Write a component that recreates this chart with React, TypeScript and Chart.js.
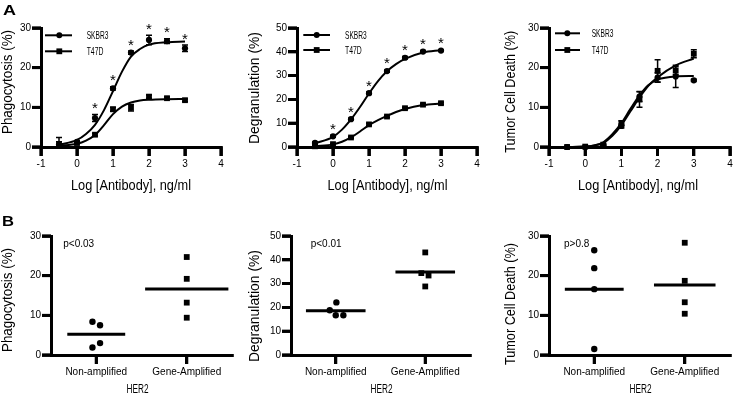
import React, { useEffect, useRef } from "react";
import { Chart, registerables } from "chart.js";

Chart.register(...registerables);

const FONT = "'Liberation Sans', Arial, Helvetica, sans-serif";

// ---------- Panel A: dose response ----------
const seriesNames = ["SKBR3", "T47D"];
const doseLog = [-0.5, 0, 0.5, 1, 1.5, 2, 2.5, 3];
const fitLog = [-0.5, 0, 0.25, 0.5, 0.75, 1, 1.25, 1.5, 1.75, 2, 2.5, 3];

// Phagocytosis
const phagoSKBR3 = [0.6, 1.3, 7.3, 14.8, 23.8, 27.0, 26.7, 24.9];
const phagoSKBR3Err = [1.8, 0.3, 0.9, 0.4, 0.4, 1.2, 0.6, 0.8];
const phagoT47D = [0.5, 1.0, 3.1, 9.5, 9.9, 12.7, 12.3, 11.8];
const phagoT47DErr = [0.8, 0.2, 0.3, 0.5, 0.8, 0.4, 0.3, 0.3];
const phagoFitSKBR3 = [0.5, 1.8, 3.3, 5.6, 9.3, 14.1, 19.0, 22.8, 24.7, 25.8, 26.4, 26.6];
const phagoFitT47D = [0.3, 0.8, 1.6, 3.0, 5.5, 8.3, 10.2, 11.2, 11.7, 11.9, 12.05, 12.1];
const phagoStarDoses = [0.5, 1, 1.5, 2, 2.5, 3];

// Degranulation
const degSKBR3 = [1.7, 4.5, 11.7, 22.6, 31.9, 37.5, 40.1, 40.5];
const degSKBR3Err = [0.4, 0.4, 0.4, 0.5, 0.5, 0.5, 0.4, 0.4];
const degT47D = [0.3, 1.2, 4.0, 9.5, 12.8, 16.3, 17.8, 18.4];
const degT47DErr = [0.3, 0.3, 0.3, 0.5, 0.4, 0.4, 0.4, 0.4];
const degFitSKBR3 = [1.5, 4.3, 7.3, 11.6, 16.8, 22.5, 27.7, 31.8, 34.8, 37.0, 39.7, 40.7];
const degFitT47D = [0.3, 1.1, 2.2, 4.0, 6.5, 9.2, 11.3, 13.1, 14.7, 16.0, 17.6, 18.3];
const degStarDoses = [0, 0.5, 1, 1.5, 2, 2.5, 3];

// Tumor cell death
const tcdSKBR3 = [0, 0, 0.4, 5.3, 12.7, 17.5, 17.8, 16.8];
const tcdSKBR3Err = [0, 0, 0.2, 0.5, 1.2, 1.2, 2.8, 0.3];
const tcdT47D = [0, 0.1, 0.6, 6.0, 12.0, 19.2, 19.3, 23.5];
const tcdT47DErr = [0, 0, 0.2, 0.6, 2.0, 2.8, 1.0, 1.0];
const tcdFitSKBR3 = [0, 0.1, 0.4, 1.2, 3.2, 6.0, 9.6, 13.0, 15.6, 17.0, 17.8, 17.9];
const tcdFitT47D = [0, 0.1, 0.4, 1.0, 2.8, 5.5, 9.0, 12.5, 15.5, 17.6, 20.6, 22.3];

// ---------- Panel B: HER2 groups ----------
const her2Groups = ["Non-amplified", "Gene-Amplified"];
const phagoNonAmp = [8.4, 7.5, 1.9, 3.0];
const phagoNonAmpJitter = [-0.042, 0.042, -0.042, 0.042];
const phagoAmp = [24.7, 19.2, 13.2, 9.4];
const phagoAmpJitter = [0, 0, 0, 0];
const degNonAmp = [22.1, 18.8, 16.7, 16.7];
const degNonAmpJitter = [0.007, -0.067, 0, 0.085];
const degAmp = [43.1, 34.4, 33.4, 28.8];
const degAmpJitter = [0, -0.044, 0.037, 0];
const tcdNonAmp = [26.4, 21.9, 16.6, 1.5];
const tcdNonAmpJitter = [0, 0, 0, 0];
const tcdAmp = [28.3, 18.7, 13.3, 10.4];
const tcdAmpJitter = [0, 0, 0, 0];

const pPhago = "p<0.03";
const pDeg = "p<0.01";
const pTcd = "p>0.8";

// ---------- types ----------
type Rect = { left: number; top: number; width: number; height: number };
type Area = { l: number; t: number; r: number; b: number };
type TextItem = {
  text: string; x: number; y: number; size: number; bold?: boolean;
  align?: CanvasTextAlign; rotate?: boolean; w?: number;
};
type ErrSeries = { xs: number[]; ys: number[]; es: number[] };
type LegendSpec = { x0: number; x1: number; mx: number; tx: number; ys: number[]; ws: number[] };
type Overlay = {
  errors: ErrSeries[];
  stars?: { xs: number[]; ys: number[]; es: number[] };
  legend?: LegendSpec;
  texts: TextItem[];
};

const mean = (a: number[]) => a.reduce((s, v) => s + v, 0) / a.length;
const TICK_LEN = 9;

function drawMarker(ctx: CanvasRenderingContext2D, style: string, x: number, y: number) {
  ctx.beginPath();
  if (style === "circle") {
    ctx.arc(x, y, 3, 0, Math.PI * 2);
  } else {
    ctx.rect(x - 2.9, y - 2.9, 5.8, 5.8);
  }
  ctx.fill();
}

function drawText(ctx: CanvasRenderingContext2D, t: TextItem, ox: number, oy: number) {
  ctx.save();
  ctx.font = `${t.bold ? "bold " : ""}${t.size}px ${FONT}`;
  ctx.fillStyle = "#000";
  ctx.textAlign = t.align ?? "left";
  ctx.textBaseline = "alphabetic";
  const natural = ctx.measureText(t.text).width;
  const sx = t.w ? t.w / natural : 1;
  ctx.translate(t.x - ox, t.y - oy);
  if (t.rotate) ctx.rotate(-Math.PI / 2);
  ctx.scale(sx, 1);
  ctx.fillText(t.text, 0, 0);
  ctx.restore();
}

function drawTicks(chart: any) {
  const ctx: CanvasRenderingContext2D = chart.ctx;
  const xs = chart.scales.x;
  const ys = chart.scales.y;
  const area = chart.chartArea;
  ctx.save();
  ctx.fillStyle = "#000";
  for (const t of xs.ticks) {
    const px = xs.getPixelForValue(t.value);
    ctx.fillRect(px - 1.4, area.bottom, 2.8, TICK_LEN);
  }
  for (const t of ys.ticks) {
    const py = ys.getPixelForValue(t.value);
    ctx.fillRect(area.left - TICK_LEN, py - 1.4, TICK_LEN, 2.8);
  }
  ctx.restore();
}

function overlayPlugin(rect: Rect, ov: Overlay) {
  return {
    id: "overlay",
    beforeDatasetsDraw(chart: any) {
      const ctx: CanvasRenderingContext2D = chart.ctx;
      const xs = chart.scales.x;
      const ys = chart.scales.y;
      ctx.save();
      ctx.strokeStyle = "#000";
      ctx.lineWidth = 1.5;
      for (const s of ov.errors) {
        s.xs.forEach((x, i) => {
          const e = s.es[i];
          if (!e) return;
          const px = xs.getPixelForValue(x);
          const p1 = ys.getPixelForValue(s.ys[i] + e);
          const p2 = ys.getPixelForValue(Math.max(0, s.ys[i] - e));
          ctx.beginPath();
          ctx.moveTo(px, p1);
          ctx.lineTo(px, p2);
          ctx.moveTo(px - 3, p1);
          ctx.lineTo(px + 3, p1);
          ctx.moveTo(px - 3, p2);
          ctx.lineTo(px + 3, p2);
          ctx.stroke();
        });
      }
      ctx.restore();
    },
    afterDatasetsDraw(chart: any) {
      const ctx: CanvasRenderingContext2D = chart.ctx;
      const xs = chart.scales.x;
      const ys = chart.scales.y;
      drawTicks(chart);
      ctx.save();
      ctx.fillStyle = "#000";
      ctx.strokeStyle = "#000";
      if (ov.stars) {
        const st = ov.stars;
        const fs = 15;
        ctx.font = `${fs}px ${FONT}`;
        ctx.textAlign = "center";
        ctx.textBaseline = "alphabetic";
        st.xs.forEach((x, i) => {
          const px = xs.getPixelForValue(x);
          const top = ys.getPixelForValue(st.ys[i] + st.es[i]);
          const cy = top - 10;
          ctx.fillText("*", px, cy + 0.57 * fs);
        });
      }
      if (ov.legend) {
        const L = ov.legend;
        const styles = ["circle", "rect"];
        L.ys.forEach((y, i) => {
          const yy = y - rect.top;
          ctx.lineWidth = 2;
          ctx.beginPath();
          ctx.moveTo(L.x0 - rect.left, yy);
          ctx.lineTo(L.x1 - rect.left, yy);
          ctx.stroke();
          drawMarker(ctx, styles[i], L.mx - rect.left, yy);
          drawText(ctx, { text: seriesNames[i], x: L.tx, y: y + 3.9, size: 11, w: L.ws[i] }, rect.left, rect.top);
        });
      }
      for (const t of ov.texts) drawText(ctx, t, rect.left, rect.top);
      ctx.restore();
    },
    afterDraw(chart: any) {
      drawTicks(chart);
    },
  };
}

function baseScales(rect: Rect, area: Area, yMax: number) {
  const tickFont = { family: FONT, size: 10 };
  const grid = {
    drawOnChartArea: false, drawTicks: true, tickLength: TICK_LEN,
    color: "#000", lineWidth: 2.8, tickColor: "#000", tickWidth: 2.8,
  };
  return {
    y: {
      type: "linear",
      min: 0,
      max: yMax,
      ticks: { stepSize: 10, font: tickFont, color: "#000", padding: 1 },
      grid: { ...grid },
      border: { display: true, color: "#000", width: 3 },
      afterFit: (s: any) => { s.width = area.l - rect.left; },
    },
    xGrid: { ...grid },
    xBorder: { display: true, color: "#000", width: 3 },
    tickFont,
  };
}

function commonOptions(rect: Rect, area: Area) {
  return {
    animation: false,
    responsive: false,
    maintainAspectRatio: false,
    events: [],
    layout: { padding: { left: 0, top: area.t - rect.top, right: rect.left + rect.width - area.r, bottom: 0 } },
    plugins: { legend: { display: false }, tooltip: { enabled: false } },
  };
}

function doseConfig(
  rect: Rect, area: Area, yMax: number,
  sk: number[], t4: number[], fitSk: number[], fitT4: number[], overlay: Overlay
) {
  const b = baseScales(rect, area, yMax);
  return {
    type: "scatter",
    data: {
      datasets: [
        { data: doseLog.map((x, i) => ({ x, y: sk[i] })), pointStyle: "circle", pointRadius: 3.1, backgroundColor: "#000", borderColor: "#000", borderWidth: 0, clip: false },
        { data: doseLog.map((x, i) => ({ x, y: t4[i] })), pointStyle: "rect", pointRadius: 4.1, backgroundColor: "#000", borderColor: "#000", borderWidth: 0, clip: false },
        { type: "line", data: fitLog.map((x, i) => ({ x, y: fitSk[i] })), borderColor: "#000", borderWidth: 2, pointRadius: 0, cubicInterpolationMode: "monotone", fill: false, clip: false },
        { type: "line", data: fitLog.map((x, i) => ({ x, y: fitT4[i] })), borderColor: "#000", borderWidth: 2, pointRadius: 0, cubicInterpolationMode: "monotone", fill: false, clip: false },
      ],
    },
    options: {
      ...commonOptions(rect, area),
      scales: {
        x: {
          type: "linear",
          min: -1,
          max: 4,
          ticks: { stepSize: 1, font: b.tickFont, color: "#000", padding: 2, maxRotation: 0 },
          grid: b.xGrid,
          border: b.xBorder,
          afterFit: (s: any) => { s.height = rect.top + rect.height - area.b; },
        },
        y: b.y,
      },
    },
    plugins: [overlayPlugin(rect, overlay)],
  } as any;
}

function groupConfig(
  rect: Rect, area: Area, yMax: number,
  non: number[], nonJ: number[], amp: number[], ampJ: number[],
  halfW: [number, number], overlay: Overlay
) {
  const b = baseScales(rect, area, yMax);
  const mNon = mean(non);
  const mAmp = mean(amp);
  return {
    type: "scatter",
    data: {
      datasets: [
        { data: non.map((y, i) => ({ x: 0.5 + nonJ[i], y })), pointStyle: "circle", pointRadius: 3.2, backgroundColor: "#000", borderColor: "#000", borderWidth: 0, clip: false },
        { data: amp.map((y, i) => ({ x: 1.5 + ampJ[i], y })), pointStyle: "rect", pointRadius: 4.1, backgroundColor: "#000", borderColor: "#000", borderWidth: 0, clip: false },
        { type: "line", data: [{ x: 0.5 - halfW[0], y: mNon }, { x: 0.5 + halfW[0], y: mNon }], borderColor: "#000", borderWidth: 3, pointRadius: 0, fill: false, clip: false },
        { type: "line", data: [{ x: 1.5 - halfW[1], y: mAmp }, { x: 1.5 + halfW[1], y: mAmp }], borderColor: "#000", borderWidth: 3, pointRadius: 0, fill: false, clip: false },
      ],
    },
    options: {
      ...commonOptions(rect, area),
      scales: {
        x: {
          type: "linear",
          min: 0,
          max: 2,
          afterBuildTicks: (s: any) => { s.ticks = [{ value: 0.5 }, { value: 1.5 }]; },
          ticks: {
            autoSkip: false,
            font: b.tickFont,
            color: "#000",
            padding: 2,
            maxRotation: 0,
            callback: (_v: any, i: number) => her2Groups[i],
          },
          grid: b.xGrid,
          border: b.xBorder,
          afterFit: (s: any) => { s.height = rect.top + rect.height - area.b; },
        },
        y: b.y,
      },
    },
    plugins: [overlayPlugin(rect, overlay)],
  } as any;
}

// ---------- panel layout ----------
const rA1: Rect = { left: 0, top: 0, width: 240, height: 200 };
const aA1: Area = { l: 41, t: 28, r: 221, b: 147 };
const rA2: Rect = { left: 240, top: 0, width: 245, height: 200 };
const aA2: Area = { l: 297, t: 28, r: 477, b: 147 };
const rA3: Rect = { left: 485, top: 0, width: 251, height: 200 };
const aA3: Area = { l: 549, t: 28, r: 730, b: 147 };
const rB1: Rect = { left: 0, top: 205, width: 240, height: 197 };
const aB1: Area = { l: 51, t: 236, r: 232, b: 355 };
const rB2: Rect = { left: 240, top: 205, width: 245, height: 197 };
const aB2: Area = { l: 291, t: 236, r: 470, b: 355 };
const rB3: Rect = { left: 485, top: 205, width: 251, height: 197 };
const aB3: Area = { l: 549, t: 236, r: 730, b: 355 };

const xTitle = "Log [Antibody], ng/ml";
const legendWidths = [21.7, 16.7];

function starSeries(doses: number[], vals: number[], errs: number[]) {
  const idx = doses.map((d) => doseLog.indexOf(d));
  return { xs: doses, ys: idx.map((i) => vals[i]), es: idx.map((i) => errs[i]) };
}

const panels: { rect: Rect; build: () => any }[] = [
  {
    rect: rA1,
    build: () => doseConfig(rA1, aA1, 30, phagoSKBR3, phagoT47D, phagoFitSKBR3, phagoFitT47D, {
      errors: [{ xs: doseLog, ys: phagoSKBR3, es: phagoSKBR3Err }, { xs: doseLog, ys: phagoT47D, es: phagoT47DErr }],
      stars: starSeries(phagoStarDoses, phagoSKBR3, phagoSKBR3Err),
      legend: { x0: 45, x1: 72, mx: 59.3, tx: 86.7, ys: [35.3, 51.3], ws: legendWidths },
      texts: [
        { text: "A", x: 3, y: 15, size: 14, bold: true, w: 13 },
        { text: xTitle, x: 131, y: 190, size: 14, align: "center", w: 120 },
        { text: "Phagocytosis (%)", x: 11.7, y: 82, size: 14, align: "center", rotate: true, w: 104 },
      ],
    }),
  },
  {
    rect: rA2,
    build: () => doseConfig(rA2, aA2, 50, degSKBR3, degT47D, degFitSKBR3, degFitT47D, {
      errors: [{ xs: doseLog, ys: degSKBR3, es: degSKBR3Err }, { xs: doseLog, ys: degT47D, es: degT47DErr }],
      stars: starSeries(degStarDoses, degSKBR3, degSKBR3Err),
      legend: { x0: 303.3, x1: 330, mx: 316.7, tx: 345, ys: [35, 50], ws: legendWidths },
      texts: [
        { text: xTitle, x: 387.5, y: 190, size: 14, align: "center", w: 120 },
        { text: "Degranulation (%)", x: 259, y: 88, size: 14, align: "center", rotate: true, w: 112 },
      ],
    }),
  },
  {
    rect: rA3,
    build: () => doseConfig(rA3, aA3, 30, tcdSKBR3, tcdT47D, tcdFitSKBR3, tcdFitT47D, {
      errors: [{ xs: doseLog, ys: tcdSKBR3, es: tcdSKBR3Err }, { xs: doseLog, ys: tcdT47D, es: tcdT47DErr }],
      legend: { x0: 555, x1: 580, mx: 567.3, tx: 591.7, ys: [33.3, 50], ws: legendWidths },
      texts: [
        { text: xTitle, x: 638, y: 190, size: 14, align: "center", w: 120 },
        { text: "Tumor Cell Death (%)", x: 515, y: 91.7, size: 14, align: "center", rotate: true, w: 122 },
      ],
    }),
  },
  {
    rect: rB1,
    build: () => groupConfig(rB1, aB1, 30, phagoNonAmp, phagoNonAmpJitter, phagoAmp, phagoAmpJitter, [0.32, 0.46], {
      errors: [],
      texts: [
        { text: "B", x: 2, y: 226, size: 14, bold: true, w: 12 },
        { text: pPhago, x: 63.3, y: 246.7, size: 10 },
        { text: "HER2", x: 137.5, y: 393, size: 12.5, align: "center", w: 22 },
        { text: "Phagocytosis (%)", x: 11.7, y: 300, size: 14, align: "center", rotate: true, w: 104 },
      ],
    }),
  },
  {
    rect: rB2,
    build: () => groupConfig(rB2, aB2, 50, degNonAmp, degNonAmpJitter, degAmp, degAmpJitter, [0.333, 0.333], {
      errors: [],
      texts: [
        { text: pDeg, x: 310.7, y: 246.7, size: 10 },
        { text: "HER2", x: 381.5, y: 393, size: 12.5, align: "center", w: 22 },
        { text: "Degranulation (%)", x: 259, y: 306, size: 14, align: "center", rotate: true, w: 112 },
      ],
    }),
  },
  {
    rect: rB3,
    build: () => groupConfig(rB3, aB3, 30, tcdNonAmp, tcdNonAmpJitter, tcdAmp, tcdAmpJitter, [0.325, 0.34], {
      errors: [],
      texts: [
        { text: pTcd, x: 564, y: 246.7, size: 10 },
        { text: "HER2", x: 640.5, y: 393, size: 12.5, align: "center", w: 22 },
        { text: "Tumor Cell Death (%)", x: 515, y: 304, size: 14, align: "center", rotate: true, w: 122 },
      ],
    }),
  },
];

function Panel({ rect, build }: { rect: Rect; build: () => any }) {
  const ref = useRef<HTMLCanvasElement>(null);
  useEffect(() => {
    const chart = new Chart(ref.current as HTMLCanvasElement, build());
    return () => chart.destroy();
  }, []);
  return (
    <canvas
      ref={ref}
      width={rect.width}
      height={rect.height}
      style={{ position: "absolute", left: rect.left, top: rect.top, width: rect.width, height: rect.height }}
    />
  );
}

export default function App() {
  return (
    <div style={{ position: "absolute", left: 0, top: 0, width: 736, height: 402, background: "#fff", overflow: "hidden" }}>
      {panels.map((p, i) => (
        <Panel key={i} rect={p.rect} build={p.build} />
      ))}
    </div>
  );
}
